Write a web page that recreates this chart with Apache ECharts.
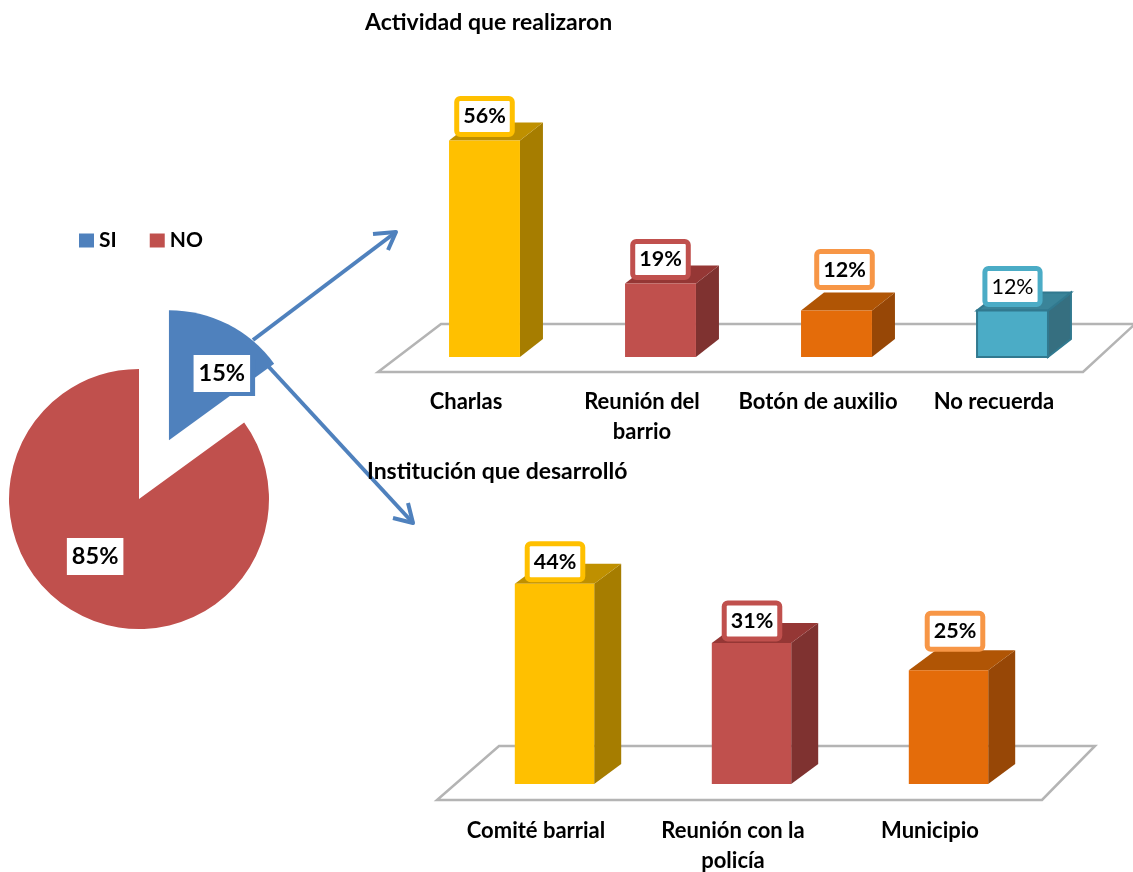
<!DOCTYPE html>
<html><head><meta charset="utf-8">
<style>html,body{margin:0;padding:0;background:#fff}#c{width:1133px;height:872px}</style>
<script src="https://cdn.jsdelivr.net/npm/echarts@6/dist/echarts.min.js"></script>
</head><body><div id="c"></div>
<script>
const pieNames = ['SI', 'NO'];
const pieValues = [15, 85];
const activityCategories = ['Charlas', 'Reunión del\nbarrio', 'Botón de auxilio', 'No recuerda'];
const activityValues = [56, 19, 12, 12];
const institutionCategories = ['Comité barrial', 'Reunión con la\npolicía', 'Municipio'];
const institutionValues = [44, 31, 25];

const FONT = 'Lato';
const faces = [
  {front:'#FFC000', side:'#A67D00', top:'#BF9000', frame:'#FFC000'},
  {front:'#C0504D', side:'#7F3230', top:'#953735', frame:'#C0504D'},
  {front:'#E46C0A', side:'#974706', top:'#B05505', frame:'#F79646'},
  {front:'#4BACC6', side:'#366F80', top:'#3A8499', frame:'#4BACC6', edge:'#31798F', plain:true}
];

function bars3d(cfg){
  return function(params, api){
    const i = api.value(0), v = api.value(1);
    const base = api.coord([i, 0]), topPt = api.coord([i, v]);
    const w = api.size([1, 0])[0] * 0.403;
    const L = base[0] - w/2, R = base[0] + w/2, B = base[1], T = topPt[1];
    const f = faces[i], dx = cfg.dx, dy = cfg.dy;
    const edge = f.edge ? {stroke:f.edge, lineWidth:2} : {};
    const shift = i === 2 ? cfg.raised : cfg.rest;
    return {type:'group', children:[
      {type:'polygon', shape:{points:[[R,B],[R+dx,B-dy],[R+dx,T-dy],[R,T]]}, style:Object.assign({fill:f.side}, edge)},
      {type:'polygon', shape:{points:[[L,T],[L+dx,T-dy],[R+dx,T-dy],[R,T]]}, style:Object.assign({fill:f.top}, edge)},
      {type:'rect', shape:{x:L, y:T, width:w, height:B-T}, style:Object.assign({fill:f.front}, edge)},
      {type:'text', x:base[0]+shift[0], y:T+shift[1], style:{
        text:v+'%', fill:'#000', font:(f.plain?'normal':'bold')+' 21.5px '+FONT,
        align:'center', verticalAlign:'middle',
        backgroundColor:'#fff', borderColor:f.frame, borderWidth:5, borderRadius:1,
        padding:[5,4,4,4]
      }}
    ]};
  };
}

function floor(pts){
  return {type:'polygon', z:1, shape:{points:pts},
    style:{fill:'#fff', stroke:'#b4b4b4', lineWidth:2.5}};
}
function arrow(points){
  return {type:'polyline', z:1, shape:{points}, style:{fill:null, stroke:'#4F81BD', lineWidth:4, lineJoin:'round'}};
}

const catAxis = (gridIndex, data, margin) => ({
  type:'category', gridIndex, data,
  axisLine:{show:false}, axisTick:{show:false}, splitLine:{show:false},
  axisLabel:{interval:0, margin, color:'#000', fontFamily:FONT, fontWeight:'bold', fontSize:22, lineHeight:30, padding:[0,37,0,0]}
});
const valAxis = (gridIndex, max) => ({type:'value', gridIndex, min:0, max, show:false});
const titleAt = (text, left, top) => ({text, left, top, textStyle:{fontFamily:FONT, fontWeight:'bold', fontSize:23, color:'#000'}, padding:0});

const chart = echarts.init(document.getElementById('c'));
chart.setOption({
  animation:false,
  backgroundColor:'#fff',
  title:[titleAt('Actividad que realizaron', 365, 11), titleAt('Institución que desarrolló', 367, 460)],
  legend:{data:pieNames, left:79, top:230, icon:'rect', itemWidth:15, itemHeight:14, itemGap:33, padding:0,
    selectedMode:false, textStyle:{fontFamily:FONT, fontWeight:'bold', fontSize:21, color:'#000'}},
  grid:[
    {left:396.5, width:704, top:125, height:232, outerBoundsMode:'none'},
    {left:456, width:591, top:556.5, height:227.5, outerBoundsMode:'none'}
  ],
  xAxis:[catAxis(0, activityCategories, 30), catAxis(1, institutionCategories, 32)],
  yAxis:[valAxis(0, 60), valAxis(1, 50)],
  graphic:[
    floor([[378,372],[1083,372],[1135,324],[441,324]]),
    floor([[437,800],[1042,800],[1095,746],[499,746]]),
    arrow([[253,340],[396,232]]), arrow([[373,234],[396,232],[388,250]]),
    arrow([[268,366],[413,523]]), arrow([[393,518],[413,523],[408,503]])
  ],
  series:[
    {type:'pie', center:[139,499], radius:[0,130], startAngle:90, clockwise:true,
     selectedMode:'multiple', selectedOffset:66, avoidLabelOverlap:false,
     data:[
       {name:pieNames[0], value:pieValues[0], selected:true, itemStyle:{color:'#4F81BD'},
        label:{offset:[22,-6], shadowColor:'#4F81BD', shadowOffsetX:5, shadowOffsetY:4, shadowBlur:0.1},
        select:{label:{offset:[22,-6]}}},
       {name:pieNames[1], value:pieValues[1], itemStyle:{color:'#C0504D'}, label:{offset:[-13,-3]}}
     ],
     label:{show:true, position:'inside', formatter:'{d}%', color:'#000', fontFamily:FONT, fontWeight:'bold', fontSize:23.5,
       backgroundColor:'#fff', padding:[7,5,6,5]},
     labelLine:{show:false}, silent:true},
    {type:'custom', xAxisIndex:0, yAxisIndex:0, coordinateSystem:'cartesian2d', clip:false, encode:{x:0,y:1},
     renderItem:bars3d({dx:23, dy:18, raised:[8,-41], rest:[0,-24]}),
     data:activityValues.map((v,i)=>[i,v])},
    {type:'custom', xAxisIndex:1, yAxisIndex:1, coordinateSystem:'cartesian2d', clip:false, encode:{x:0,y:1},
     renderItem:bars3d({dx:27, dy:20, raised:[6.5,-39], rest:[0.5,-22]}),
     data:institutionValues.map((v,i)=>[i,v])}
  ]
});
</script></body></html>
